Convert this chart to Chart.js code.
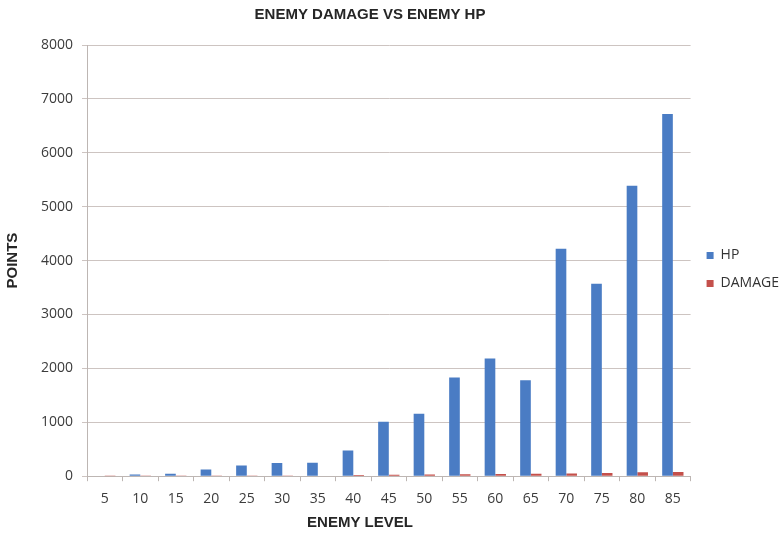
<!DOCTYPE html>
<html>
<head>
<meta charset="utf-8">
<script src="https://cdn.jsdelivr.net/npm/chart.js@4"></script>
<style>
  html, body { margin: 0; padding: 0; background: #ffffff; }
  #wrap { width: 782px; height: 536px; position: relative; }
</style>
</head>
<body>
<div id="wrap"><canvas id="chart" width="782" height="536"></canvas></div>
<script>
// Enemy stats by level
const levels = ['5', '10', '15', '20', '25', '30', '35', '40', '45', '50', '55', '60', '65', '70', '75', '80', '85'];
const hpValues = [0, 30, 45, 125, 200, 245, 250, 475, 1010, 1160, 1830, 2185, 1780, 4220, 3570, 5390, 6720];
const damageValues = [1, 2, 3, 4, 5, 6, 7, 20, 25, 30, 35, 40, 45, 50, 60, 75, 80];
const yTicks = [0, 1000, 2000, 3000, 4000, 5000, 6000, 7000, 8000];

const titleFont = '"Liberation Sans Narrow", "Liberation Sans", Arial, sans-serif';
const tickFont = '"Open Sans", "DejaVu Sans", sans-serif';
const gridColor = '#cdc4c1';

// Chart title and x-axis caption, positioned as in the original sheet
const captions = {
  id: 'captions',
  afterDraw(chart) {
    const ctx = chart.ctx;
    ctx.save();
    ctx.fillStyle = '#262626';
    ctx.textAlign = 'center';
    ctx.textBaseline = 'middle';
    ctx.font = 'bold 15px ' + titleFont;
    ctx.fillText('ENEMY DAMAGE VS ENEMY HP', 370, 15);
    ctx.fillText('ENEMY LEVEL', 360, 523);
    ctx.restore();
  }
};

// Nudge the legend block so it sits beside the middle of the plot
const legendNudge = {
  id: 'legendNudge',
  afterLayout(chart) {
    const lg = chart.legend;
    if (!lg) return;
    lg.left += 2; lg.right += 2;
    lg.top -= 11; lg.bottom -= 11;
  }
};

new Chart(document.getElementById('chart'), {
  type: 'bar',
  data: {
    labels: levels,
    datasets: [
      { label: 'HP', data: hpValues, backgroundColor: '#4a7cc4', borderWidth: 0 },
      { label: 'DAMAGE', data: damageValues, backgroundColor: '#c4504b', borderWidth: 0 }
    ]
  },
  options: {
    responsive: false,
    animation: false,
    devicePixelRatio: 1,
    layout: { padding: { top: 45, bottom: 20, left: 4, right: -5 } },
    datasets: { bar: { categoryPercentage: 0.6, barPercentage: 1.0 } },
    plugins: {
      title: { display: false },
      tooltip: { enabled: false },
      legend: {
        position: 'right',
        labels: {
          boxWidth: 7,
          boxHeight: 7,
          padding: 14,
          color: '#333333',
          font: { family: tickFont, size: 14 }
        }
      }
    },
    scales: {
      x: {
        offset: true,
        grid: {
          offset: true,
          drawOnChartArea: false,
          drawTicks: true,
          tickLength: 5,
          color: '#bdb6b3'
        },
        border: { color: '#bdb6b3' },
        ticks: {
          color: '#3c3c3c',
          padding: 9,
          maxRotation: 0,
          font: { family: tickFont, size: 14 }
        }
      },
      y: {
        min: 0,
        max: 8000,
        afterBuildTicks(scale) { scale.ticks = yTicks.map(v => ({ value: v })); },
        grid: { color: gridColor, tickLength: 5 },
        border: { color: '#bdb6b3' },
        ticks: {
          color: '#3c3c3c',
          padding: 9,
          font: { family: tickFont, size: 14 },
          callback: v => String(v)
        },
        title: {
          display: true,
          text: 'POINTS',
          color: '#262626',
          padding: { top: 0, bottom: 10 },
          font: { family: titleFont, size: 15, weight: 'bold' }
        }
      }
    }
  },
  plugins: [captions, legendNudge]
});
</script>
</body>
</html>
